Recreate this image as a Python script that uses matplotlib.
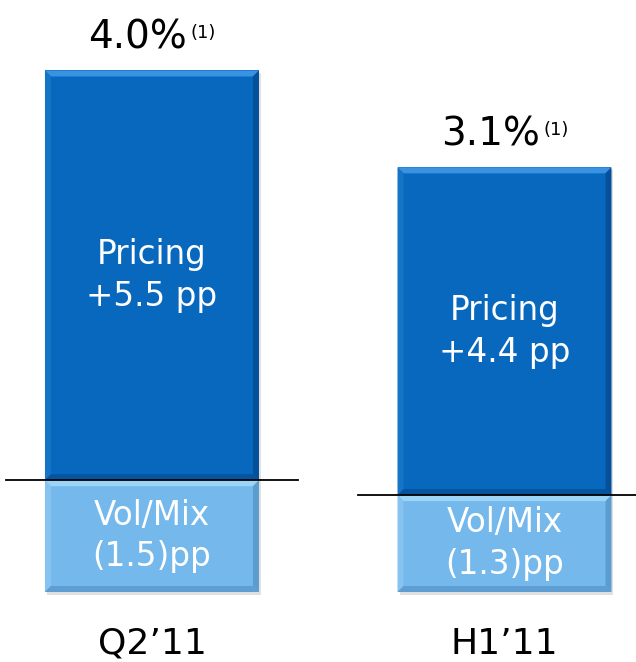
import matplotlib
matplotlib.use('Agg')
import matplotlib.pyplot as plt
from matplotlib.patches import Polygon

plt.rcParams['font.family'] = ['DejaVu Sans']

# ---- data ----
periods = ['Q2\u201911', 'H1\u201911']
pricing = [5.5, 4.4]
vol_mix = [-1.5, -1.3]
net_growth = ['4.0%', '3.1%']

dark_blue = '#0868BE'
light_blue = '#74B8EC'

fig = plt.figure(figsize=(6.36, 6.62), dpi=100)
ax = fig.add_axes([0, 0, 1, 1])
ax.set_xlim(-0.431, 1.373)
ax.set_ylim(-0.94, 7.946)
ax.axis('off')

width = 0.607
px_x = 1 / 352.5   # one pixel in data units
px_y = 1 / 74.5
bev = 6


def bevel_bar(x0, x1, y0, y1, face, top, left, right, bottom):
    """Rectangle with a bevelled border, PowerPoint style."""
    ax.add_patch(plt.Rectangle((x0, y0), x1 - x0, y1 - y0, facecolor=face,
                               edgecolor='none', zorder=2))
    dx, dy = bev * px_x, bev * px_y
    pieces = [
        ([(x0, y1), (x1, y1), (x1 - dx, y1 - dy), (x0 + dx, y1 - dy)], top),
        ([(x0, y0), (x0, y1), (x0 + dx, y1 - dy), (x0 + dx, y0 + dy)], left),
        ([(x1, y0), (x1, y1), (x1 - dx, y1 - dy), (x1 - dx, y0 + dy)], right),
        ([(x0, y0), (x1, y0), (x1 - dx, y0 + dy), (x0 + dx, y0 + dy)], bottom),
    ]
    for pts, c in pieces:
        ax.add_patch(Polygon(pts, closed=True, facecolor=c, edgecolor='none',
                             zorder=3))
    # faint drop shadow
    ax.add_patch(plt.Rectangle((x0 + 2 * px_x, y0 - 3 * px_y), x1 - x0,
                               y1 - y0, facecolor='#000000', alpha=0.12,
                               edgecolor='none', zorder=1))


for i, (p, v) in enumerate(zip(pricing, vol_mix)):
    base = abs(v)
    x0, x1 = i - width / 2, i + width / 2
    # vol/mix segment at the bottom, pricing stacked on top
    bevel_bar(x0, x1, 0, base, light_blue, '#9CD4F7', '#86C3F0', '#5C9DD0',
              '#5F9ED2')
    bevel_bar(x0, x1, base, base + p, dark_blue, '#3A92E2', '#1674C6',
              '#05509A', '#05549F')

    # zero line
    ax.plot([i - 0.415, i + 0.415], [base, base], color='black', lw=1.3,
            zorder=4)

    ax.text(i, base + p / 2, f'Pricing\n+{p} pp', color='white', fontsize=23.5,
            ha='center', va='center', linespacing=1.35, zorder=5)
    ax.text(i, base / 2, f'Vol/Mix\n({abs(v)})pp', color='white',
            fontsize=23.5, ha='center', va='center', linespacing=1.33,
            zorder=5)

    # net growth label with footnote marker
    top = base + p + 22 * px_y
    ax.text(i + 35 * px_x, top, net_growth[i], fontsize=28, ha='right',
            va='baseline', zorder=5)
    ax.text(i + 39 * px_x, top + 10 * px_y, '(1)', fontsize=13, ha='left',
            va='baseline', zorder=5)

    ax.text(i, -62 * px_y, periods[i], fontsize=26, ha='center', va='baseline')

fig.savefig('out.png', dpi=100)
